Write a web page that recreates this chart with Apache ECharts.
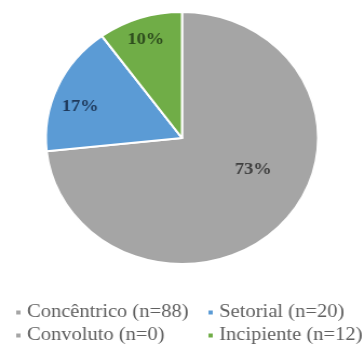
<!DOCTYPE html>
<html>
<head>
<meta charset="utf-8">
<script src="https://cdn.jsdelivr.net/npm/echarts@6/dist/echarts.min.js"></script>
<style>
  html, body { margin: 0; padding: 0; background: #fff; overflow: hidden; }
  /* the chart is drawn slightly wider than tall (elliptical pie) */
  #chart { width: 335px; height: 345px; transform: scaleX(1.08); transform-origin: 0 0; }
</style>
</head>
<body>
<div id="chart"></div>
<script>
// Categories and counts (n) per type
const categories = ['Concêntrico', 'Setorial', 'Convoluto', 'Incipiente'];
const counts = [88, 20, 0, 12];

// Styling per slice
const sliceColors = ['#a5a5a5', '#5b9bd5', '#a5a5a5', '#70ad47'];
const labelColors = ['#404040', '#1f3a5c', '#404040', '#2e4d1e'];
const labelOffsets = [[17, -13], [-34, -5], [0, 0], [-13, -36]];

const names = categories.map((c, i) => `${c} (n=${counts[i]})`);

const seriesData = names.map((name, i) => ({
  name: name,
  value: counts[i],
  itemStyle: { color: sliceColors[i] },
  label: {
    show: counts[i] > 0,
    color: labelColors[i],
    offset: labelOffsets[i]
  }
}));

const legendText = {
  fontFamily: 'Liberation Serif',
  fontSize: 19,
  lineHeight: 18,
  color: '#606060'
};

const legendBase = {
  orient: 'vertical',
  top: 303,
  padding: 0,
  icon: 'rect', itemWidth: 6, itemHeight: 6, itemGap: 4,
  selectedMode: false,
  textStyle: legendText
};

const chart = echarts.init(document.getElementById('chart'), null, { renderer: 'canvas' });
chart.setOption({
  animation: false,
  backgroundColor: '#ffffff',
  legend: [
    Object.assign({}, legendBase, { left: 13, data: [names[0], names[2]] }),
    Object.assign({}, legendBase, { left: 191, data: [names[1], names[3]] })
  ],
  series: [{
    type: 'pie',
    center: [168.5, 138],
    radius: 126,
    startAngle: 90,
    clockwise: true,
    percentPrecision: 0,
    itemStyle: { borderColor: '#ffffff', borderWidth: 2 },
    label: {
      position: 'inside',
      formatter: '{d}%',
      fontFamily: 'Liberation Serif',
      fontWeight: 'bold',
      fontSize: 17
    },
    labelLine: { show: false },
    emphasis: { disabled: true },
    data: seriesData
  }]
});
</script>
</body>
</html>
